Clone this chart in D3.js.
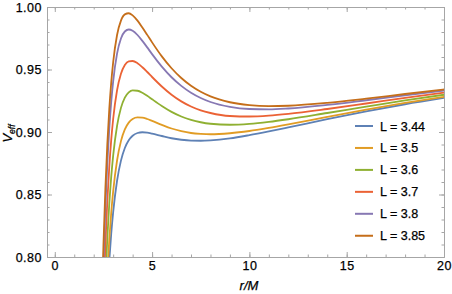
<!DOCTYPE html>
<html lang="en">
<head>
<meta charset="UTF-8">
<title>V_eff</title>
<script src="https://cdn.jsdelivr.net/npm/d3@7/dist/d3.min.js"></script>
<style>
    body { margin: 0; background: #fff; }
    text { font-family: "Liberation Sans", Arial, sans-serif; }
</style>
</head>
<body>

<svg width="452" height="294"></svg>

<script>

    // r/M sample points
    var rValues = [2.4, 2.5, 2.6, 2.7, 2.8, 2.9, 3.0, 3.2, 3.4, 3.6, 3.8, 4.0, 4.25, 4.5, 4.75, 5.0,
        5.5, 6, 6.5, 7, 7.5, 8, 9, 10, 11, 12, 14, 16, 18, 20];

    // legend labels
    var labels = ['L = 3.44', 'L = 3.5', 'L = 3.6', 'L = 3.7', 'L = 3.8', 'L = 3.85'];

    // V_eff for each L
    var vL344 = [0.6416, 0.6944, 0.7365, 0.7701, 0.7970, 0.8186, 0.8359, 0.8610, 0.8771, 0.8872, 0.8934, 0.8970, 0.8992, 0.8998, 0.8995, 0.8987,
        0.8968, 0.8950, 0.8938, 0.8931, 0.8930, 0.8933, 0.8949, 0.8975, 0.9005, 0.9037, 0.9103, 0.9165, 0.9222, 0.9273];
    var vL35 = [0.6568, 0.7104, 0.7530, 0.7868, 0.8139, 0.8354, 0.8526, 0.8772, 0.8927, 0.9021, 0.9075, 0.9104, 0.9117, 0.9115, 0.9104, 0.9089,
        0.9057, 0.9028, 0.9007, 0.8992, 0.8985, 0.8982, 0.8990, 0.9008, 0.9033, 0.9061, 0.9121, 0.9179, 0.9233, 0.9282];
    var vL36 = [0.6827, 0.7377, 0.7811, 0.8154, 0.8426, 0.8641, 0.8811, 0.9049, 0.9193, 0.9275, 0.9317, 0.9333, 0.9330, 0.9314, 0.9290, 0.9262,
        0.9208, 0.9161, 0.9124, 0.9097, 0.9078, 0.9066, 0.9058, 0.9065, 0.9081, 0.9102, 0.9152, 0.9203, 0.9253, 0.9298];
    var vL37 = [0.7093, 0.7657, 0.8100, 0.8448, 0.8722, 0.8937, 0.9104, 0.9334, 0.9466, 0.9536, 0.9565, 0.9568, 0.9550, 0.9518, 0.9480, 0.9440,
        0.9364, 0.9298, 0.9245, 0.9204, 0.9173, 0.9152, 0.9128, 0.9124, 0.9131, 0.9145, 0.9184, 0.9228, 0.9273, 0.9315];
    var vL38 = [0.7367, 0.7945, 0.8397, 0.8750, 0.9026, 0.9240, 0.9405, 0.9627, 0.9748, 0.9804, 0.9820, 0.9810, 0.9776, 0.9729, 0.9677, 0.9623,
        0.9523, 0.9438, 0.9369, 0.9314, 0.9272, 0.9240, 0.9201, 0.9184, 0.9181, 0.9188, 0.9217, 0.9254, 0.9293, 0.9331];
    var vL385 = [0.7507, 0.8092, 0.8548, 0.8904, 0.9181, 0.9395, 0.9558, 0.9776, 0.9891, 0.9941, 0.9950, 0.9933, 0.9891, 0.9836, 0.9777, 0.9717,
        0.9605, 0.9510, 0.9432, 0.9370, 0.9322, 0.9285, 0.9238, 0.9215, 0.9207, 0.9210, 0.9233, 0.9267, 0.9304, 0.9340];

    var seriesValues = [vL344, vL35, vL36, vL37, vL38, vL385];
    var colors = ['#5E81B5', '#E19C24', '#8FB032', '#EB6235', '#8778B3', '#C56E1A'];

    var xTicks = [0, 5, 10, 15, 20];
    var yTicks = [0.80, 0.85, 0.90, 0.95, 1.00];

    var svg = d3.select('svg');
    var plotLeft = 47, plotRight = 444, plotTop = 7, plotBottom = 257;

    var x = d3.scaleLinear().domain([-0.4, 20]).range([plotLeft, plotRight]);
    var y = d3.scaleLinear().domain([0.80, 1.00]).range([plotBottom, plotTop]);

    var frameColor = '#a6a6a6';

    // clip so curves stop at the frame
    svg.append('clipPath').attr('id', 'plotClip')
        .append('rect')
        .attr('x', plotLeft).attr('y', plotTop)
        .attr('width', plotRight - plotLeft).attr('height', plotBottom - plotTop);

    //frame + ticks
    function styleAxis(g) {
        g.selectAll('.domain').attr('stroke', frameColor);
        g.selectAll('.tick line').attr('stroke', frameColor);
        g.selectAll('.tick text')
            .attr('fill', '#000').attr('stroke', '#000').attr('stroke-width', 0.25)
            .attr('font-size', 12.5).attr('letter-spacing', 0.5);
    }

    var xMinor = d3.range(0, 21, 1);
    var yMinor = d3.range(80, 101, 1).map(function (d) { return d / 100; });

    svg.append('g').attr('transform', 'translate(0,' + plotBottom + ')')
        .call(d3.axisBottom(x).tickValues(xMinor).tickFormat('').tickSize(-2.5).tickSizeOuter(0)).call(styleAxis);
    svg.append('g').attr('transform', 'translate(0,' + plotBottom + ')')
        .call(d3.axisBottom(x).tickValues(xTicks).tickFormat(d3.format('d')).tickSize(-5).tickSizeOuter(0).tickPadding(4.5)).call(styleAxis);
    svg.append('g').attr('transform', 'translate(0,' + plotTop + ')')
        .call(d3.axisTop(x).tickValues(xMinor).tickFormat('').tickSize(-2.5).tickSizeOuter(0)).call(styleAxis);
    svg.append('g').attr('transform', 'translate(0,' + plotTop + ')')
        .call(d3.axisTop(x).tickValues(xTicks).tickFormat('').tickSize(-5).tickSizeOuter(0)).call(styleAxis);

    svg.append('g').attr('transform', 'translate(' + plotLeft + ',0)')
        .call(d3.axisLeft(y).tickValues(yMinor).tickFormat('').tickSize(-2.5).tickSizeOuter(0)).call(styleAxis);
    svg.append('g').attr('transform', 'translate(' + plotLeft + ',0)')
        .call(d3.axisLeft(y).tickValues(yTicks).tickFormat(d3.format('.2f')).tickSize(-5).tickSizeOuter(0).tickPadding(5)).call(styleAxis);
    svg.append('g').attr('transform', 'translate(' + plotRight + ',0)')
        .call(d3.axisRight(y).tickValues(yMinor).tickFormat('').tickSize(-2.5).tickSizeOuter(0)).call(styleAxis);
    svg.append('g').attr('transform', 'translate(' + plotRight + ',0)')
        .call(d3.axisRight(y).tickValues(yTicks).tickFormat('').tickSize(-5).tickSizeOuter(0)).call(styleAxis);

    //curves
    var line = d3.line()
        .x(function (d) { return x(d[0]); })
        .y(function (d) { return y(d[1]); })
        .curve(d3.curveMonotoneX);

    svg.append('g').attr('clip-path', 'url(#plotClip)')
        .selectAll('path')
        .data(seriesValues)
        .enter()
        .append('path')
        .attr('fill', 'none')
        .attr('stroke', function (d, i) { return colors[i]; })
        .attr('stroke-width', 1.8)
        .attr('d', function (vals) {
            return line(rValues.map(function (r, j) { return [r, vals[j]]; }));
        });

    //legend
    var legend = svg.append('g')
        .selectAll('g')
        .data(labels)
        .enter()
        .append('g')
        .attr('transform', function (d, i) { return 'translate(355,' + (126 + i * 21.95) + ')'; });
    legend.append('line')
        .attr('x1', 0).attr('x2', 18).attr('y1', 0).attr('y2', 0)
        .attr('stroke', function (d, i) { return colors[i]; })
        .attr('stroke-width', 2);
    legend.append('text')
        .attr('x', 25).attr('dy', '0.36em')
        .attr('font-size', 12.5)
        .attr('fill', '#000').attr('stroke', '#000').attr('stroke-width', 0.25)
        .text(function (d) { return d; });

    //axis labels
    var yLabel = svg.append('text')
        .attr('transform', 'translate(12,133.5) rotate(-90)')
        .attr('text-anchor', 'middle')
        .attr('font-style', 'italic')
        .attr('fill', '#000').attr('stroke', '#000').attr('stroke-width', 0.25);
    yLabel.append('tspan').attr('font-size', 13).text('V');
    yLabel.append('tspan').attr('font-size', 8.5).attr('dy', 2.5).text('eff');

    svg.append('text')
        .attr('x', 249).attr('y', 290)
        .attr('text-anchor', 'middle')
        .attr('font-style', 'italic')
        .attr('font-size', 13)
        .attr('fill', '#000').attr('stroke', '#000').attr('stroke-width', 0.25)
        .text('r/M');

</script>
</body>
</html>
